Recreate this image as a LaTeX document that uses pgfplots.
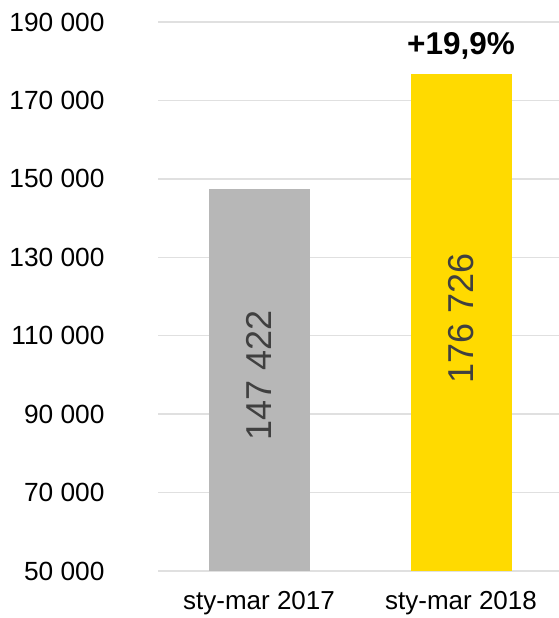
\documentclass[border=0pt]{standalone}
\usepackage{fontspec}
\setmainfont{Liberation Sans}
\usepackage{pgfplots}
\pgfplotsset{compat=1.18}
\definecolor{bargray}{HTML}{B7B7B7}
\definecolor{baryellow}{HTML}{FFDA00}
\definecolor{gridgray}{HTML}{E0E0E0}
\definecolor{labgray}{HTML}{404040}
\begin{document}
\begin{tikzpicture}
\useasboundingbox (0,0) rectangle (559pt,618pt);
\begin{axis}[
  at={(158pt,47pt)}, anchor=south west,
  scale only axis, width=401pt, height=549pt,
  xmin=-0.5, xmax=1.485,
  ymin=50000, ymax=190000,
  ytick={50000,70000,...,190000},
  scaled y ticks=false,
  yticklabel={\pgfmathprintnumber[fixed, precision=0, 1000 sep={\ }, assume math mode=true]{\tick}},
  xtick={0,1},
  xticklabels={sty-mar 2017, sty-mar 2018},
  axis line style={draw=none},
  major tick length=0pt,
  ymajorgrids,
  grid style={gridgray, line width=1.5pt},
  yticklabel style={font=\fontsize{26.3}{30}\selectfont, anchor=east, xshift=-50pt},
  xticklabel style={font=\fontsize{26}{30}\selectfont, anchor=north, yshift=-17pt},
  ybar, bar width=101pt,
  clip=true,
]
\addplot[fill=bargray, draw=none, bar shift=0pt] coordinates {(0,147422)};
\addplot[fill=baryellow, draw=none, bar shift=0pt] coordinates {(1,176726)};
\node[rotate=90, text=labgray, font=\fontsize{36}{40}\selectfont, anchor=center] at (axis cs:0,99800) {147 422};
\node[rotate=90, text=labgray, font=\fontsize{36}{40}\selectfont, anchor=center] at (axis cs:1,114500) {176 726};
\node[font=\bfseries\fontsize{31.5}{36}\selectfont, anchor=center] at (axis cs:1,183800) {+19,9\%};
\end{axis}
\end{tikzpicture}
\end{document}
